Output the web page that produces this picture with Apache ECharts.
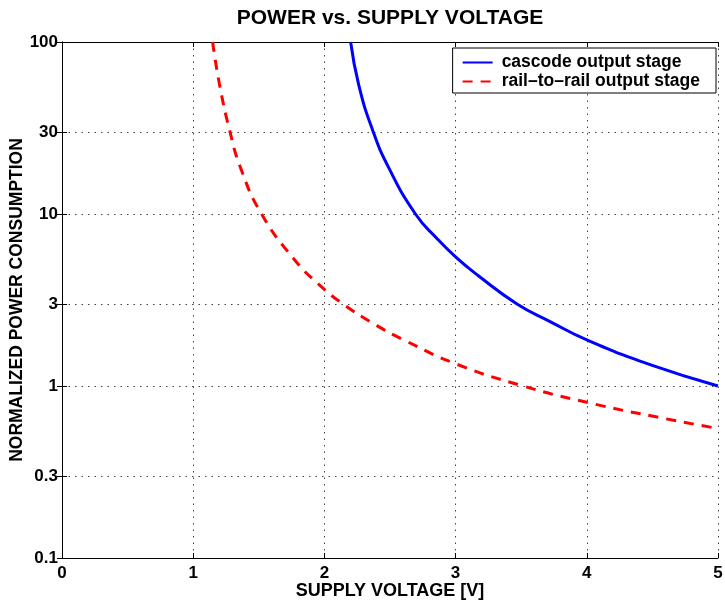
<!DOCTYPE html>
<html>
<head>
<meta charset="utf-8">
<script src="https://cdn.jsdelivr.net/npm/echarts@6/dist/echarts.min.js"></script>
<style>
  html, body { margin: 0; padding: 0; background: #fff; }
  #main { width: 725px; height: 607px; }
</style>
</head>
<body>
<div id="main"></div>
<script>
// supply voltage [V] and normalized power
var cascodeV = [2.200, 2.262, 2.367, 2.487, 2.694, 2.858, 3.008, 3.171, 3.468, 3.720, 4.009, 4.482, 5.0];
var cascodeP = [100, 56.2, 30.8, 18.8, 10, 7.2, 5.56, 4.39, 3.0, 2.37, 1.84, 1.33, 1.0];

var railV = [1.148, 1.200, 1.277, 1.364, 1.521, 1.763, 1.953, 2.142, 2.373, 2.601, 3.008, 3.514, 4.011, 4.583, 5.0];
var railP = [100, 57.0, 30.8, 18.3, 10.0, 5.53, 3.92, 3.0, 2.31, 1.86, 1.34, 1.0, 0.80, 0.649, 0.566];

var yTicks = [0.1, 0.3, 1, 3, 10, 30, 100];

var FONT = '"Liberation Sans", Arial, sans-serif';

function pairs(xs, ys) {
  return xs.map(function (x, i) { return [x, ys[i]]; });
}

var chart = echarts.init(document.getElementById('main'));

var gridDots = { show: true, lineStyle: { color: '#444', width: 1, type: [1.5, 5] } };

var option = {
  animation: false,
  backgroundColor: '#fff',
  title: {
    text: 'POWER vs. SUPPLY VOLTAGE',
    left: 385,
    textAlign: 'center',
    top: 3,
    textStyle: { fontFamily: FONT, fontWeight: 'bold', fontSize: 21, color: '#000' }
  },
  legend: {
    orient: 'vertical',
    right: 9,
    top: 48,
    align: 'left',
    backgroundColor: '#fff',
    borderColor: '#000',
    borderWidth: 1,
    borderRadius: 0,
    padding: [5, 16, 2, 9],
    itemWidth: 30,
    itemHeight: 14,
    itemGap: 0,
    itemStyle: { opacity: 0 },
    textStyle: {
      fontFamily: FONT, fontWeight: 'bold', fontSize: 17.5, color: '#000',
      lineHeight: 19, padding: [0, 0, 0, 4]
    },
    data: ['cascode output stage', 'rail\u2013to\u2013rail output stage']
  },
  grid: { left: 62, right: 7, top: 42, bottom: 49, containLabel: false, outerBoundsMode: 'none' },
  xAxis: [{
    type: 'value',
    min: 0, max: 5, interval: 1,
    name: 'SUPPLY VOLTAGE [V]',
    nameLocation: 'middle',
    nameGap: 24,
    nameMoveOverlap: false,
    nameTextStyle: { fontFamily: FONT, fontWeight: 'bold', fontSize: 18, color: '#000' },
    axisLine: { show: true, lineStyle: { color: '#000', width: 1 } },
    axisTick: { show: true, inside: true, length: 5, lineStyle: { color: '#000' } },
    axisLabel: { fontFamily: FONT, fontWeight: 'bold', fontSize: 17, color: '#000', margin: 7 },
    splitLine: gridDots
  }, {
    type: 'value',
    position: 'top',
    min: 0, max: 5, interval: 1,
    axisLine: { show: true, lineStyle: { color: '#000', width: 1 } },
    axisTick: { show: true, inside: true, length: 5, lineStyle: { color: '#000' } },
    axisLabel: { show: false },
    splitLine: { show: false }
  }],
  yAxis: [{
    type: 'log',
    logBase: 10,
    min: 0.1, max: 100,
    name: 'NORMALIZED POWER CONSUMPTION',
    nameLocation: 'middle',
    nameRotate: 90,
    nameGap: 36,
    nameMoveOverlap: false,
    nameTextStyle: { fontFamily: FONT, fontWeight: 'bold', fontSize: 17.5, color: '#000' },
    axisLine: { show: true, lineStyle: { color: '#000', width: 1 } },
    axisTick: { show: true, inside: true, length: 5, customValues: yTicks, lineStyle: { color: '#000' } },
    axisLabel: {
      customValues: yTicks,
      fontFamily: FONT, fontWeight: 'bold', fontSize: 17, color: '#000', margin: 4,
      formatter: function (v) { return String(parseFloat(v.toPrecision(3))); }
    },
    splitLine: gridDots
  }, {
    type: 'log',
    logBase: 10,
    position: 'right',
    min: 0.1, max: 100,
    axisLine: { show: true, lineStyle: { color: '#000', width: 1 } },
    axisTick: { show: true, inside: true, length: 5, customValues: yTicks, lineStyle: { color: '#000' } },
    axisLabel: { show: false, customValues: yTicks },
    splitLine: { show: false }
  }],
  series: [{
    name: 'cascode output stage',
    type: 'line',
    xAxisIndex: 0, yAxisIndex: 0,
    symbol: 'none',
    smooth: 0.5,
    lineStyle: { color: '#0000ff', width: 3 },
    itemStyle: { color: '#0000ff' },
    data: pairs(cascodeV, cascodeP)
  }, {
    name: 'rail\u2013to\u2013rail output stage',
    type: 'line',
    xAxisIndex: 0, yAxisIndex: 0,
    symbol: 'none',
    smooth: 0.5,
    lineStyle: { color: '#ff0000', width: 3, type: [10, 8] },
    itemStyle: { color: '#ff0000' },
    data: pairs(railV, railP)
  }]
};

chart.setOption(option);
</script>
</body>
</html>
